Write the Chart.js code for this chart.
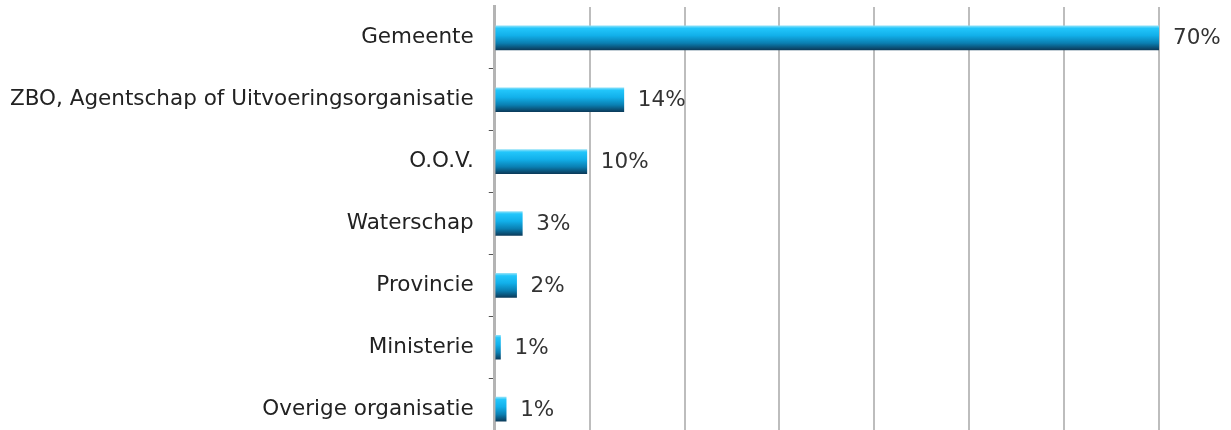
<!DOCTYPE html>
<html>
<head>
<meta charset="utf-8">
<script src="https://cdn.jsdelivr.net/npm/chart.js@4.4.0/dist/chart.umd.min.js"></script>
<style>
  html, body { margin: 0; padding: 0; overflow: hidden; background: #fff; height: 430px; width: 1231px; }
  #wrap { position: relative; width: 1236px; height: 489px; margin-top: -21px; margin-left: -5px; }
</style>
</head>
<body>
<div id="wrap"><canvas id="canvas"></canvas></div>
<script>
// categories and values
const categories = ['Gemeente', 'ZBO, Agentschap of Uitvoeringsorganisatie', 'O.O.V.', 'Waterschap', 'Provincie', 'Ministerie', 'Overige organisatie']
const shares = [70, 13.6, 9.7, 2.9, 2.3, 0.6, 1.2]
const shareLabels = ['70%', '14%', '10%', '3%', '2%', '1%', '1%']
const xTicks = [0, 10, 20, 30, 40, 50, 60, 70]

const fontFamily = '"DejaVu Sans", Verdana, sans-serif'

const barFill = (context) => {
    const chart = context.chart
    const y = chart.scales.y
    if (!chart.chartArea || !y) return '#1aa8e0'
    const center = y.getPixelForValue(context.dataIndex)
    const g = chart.ctx.createLinearGradient(0, center - 12, 0, center + 12)
    g.addColorStop(0, '#8be0f8')
    g.addColorStop(0.1, '#22c6fb')
    g.addColorStop(0.4, '#12b0ea')
    g.addColorStop(0.72, '#0a7fb2')
    g.addColorStop(1, '#0b3c5c')
    return g
}

const valueLabels = {
    id: 'valueLabels',
    afterDatasetsDraw(chart) {
        const ctx = chart.ctx
        const meta = chart.getDatasetMeta(0)
        ctx.save()
        ctx.font = '21.5px ' + fontFamily
        ctx.fillStyle = '#333'
        ctx.textBaseline = 'middle'
        meta.data.forEach((bar, i) => {
            ctx.fillText(shareLabels[i], bar.x + 14, bar.y + 1)
        })
        ctx.restore()
    }
}

const ctx = document.getElementById('canvas').getContext('2d')

const chart = new Chart(ctx, {
    type: 'bar',
    data: {
        labels: categories,
        datasets: [
            {
                data: shares,
                backgroundColor: barFill,
                borderWidth: 0,
                barThickness: 24
            }
        ]
    },
    options: {
        indexAxis: 'y',
        responsive: true,
        maintainAspectRatio: false,
        animation: false,
        layout: { padding: { left: 0, right: 72, top: 0, bottom: 0 } },
        plugins: {
            legend: { display: false },
            tooltip: { enabled: false }
        },
        scales: {
            x: {
                min: 0,
                max: 70,
                afterBuildTicks: (axis) => { axis.ticks = xTicks.map(v => ({ value: v })) },
                ticks: { display: false },
                border: { display: false },
                grid: { color: '#bdbdbd', lineWidth: 2, drawTicks: false }
            },
            y: {
                ticks: {
                    color: '#222',
                    padding: 15,
                    font: { family: fontFamily, size: 21.5 }
                },
                border: { display: true, color: '#b4b4b4', width: 3 },
                grid: {
                    drawOnChartArea: false,
                    tickLength: 6,
                    offset: true,
                    tickColor: (c) => c.index === 0 ? 'rgba(0,0,0,0)' : '#555'
                }
            }
        }
    },
    plugins: [valueLabels]
})
</script>
</body>
</html>
